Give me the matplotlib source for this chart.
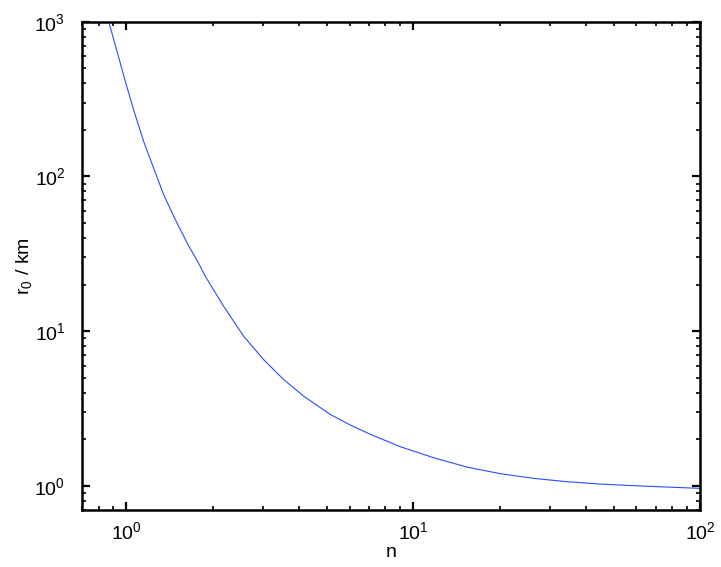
import matplotlib
matplotlib.use("Agg")
import matplotlib.pyplot as plt
from matplotlib.ticker import LogLocator, NullFormatter

plt.rcParams['font.family'] = ['Liberation Sans', 'DejaVu Sans']
plt.rcParams['mathtext.fontset'] = 'custom'
plt.rcParams['mathtext.rm'] = 'Liberation Sans'
plt.rcParams['mathtext.it'] = 'Liberation Sans'

# values
n = [0.868, 0.928, 0.992, 1.060, 1.149, 1.245, 1.349, 1.481, 1.635, 1.786,
     1.885, 2.183, 2.563, 3.008, 3.532, 4.148, 5.138, 6.03, 7.08, 9.01,
     11.77, 15.38, 20.1, 26.3, 34.3, 44.8, 58.6, 76.5, 100.0]
r0 = [1000, 640, 410, 269, 168, 113, 76.2, 52.6, 36.6, 27.5,
      22.6, 14.5, 9.29, 6.56, 4.88, 3.81, 2.90, 2.48, 2.16, 1.795,
      1.525, 1.326, 1.202, 1.121, 1.067, 1.030, 1.006, 0.985, 0.966]

fig = plt.figure(figsize=(7.21, 5.67), dpi=100)
ax = fig.add_axes([0.1137, 0.1005, 0.971 - 0.1137, 0.9617 - 0.1005])

ax.plot(n, r0, color='#2a4dff', lw=0.8)

ax.set_xscale('log')
ax.set_yscale('log')
ax.set_xlim(0.70, 100)
ax.set_ylim(0.70, 1000)

for a in (ax.xaxis, ax.yaxis):
    a.set_major_locator(LogLocator(base=10))
    a.set_minor_locator(LogLocator(base=10, subs=range(2, 10)))
    a.set_minor_formatter(NullFormatter())

ax.tick_params(which='both', direction='in', top=True, right=True, labelsize=14)
ax.tick_params(which='major', length=6, width=1.6)
ax.tick_params(which='minor', length=3, width=1.2)
ax.tick_params(axis='x', which='major', pad=8)
ax.tick_params(axis='y', which='major', pad=12)

for s in ax.spines.values():
    s.set_linewidth(1.8)

ax.set_xlabel('n', fontsize=14, labelpad=1)
ax.set_ylabel(r'r$_0$ / km', fontsize=14, labelpad=0)

fig.savefig('out.png', dpi=100)
